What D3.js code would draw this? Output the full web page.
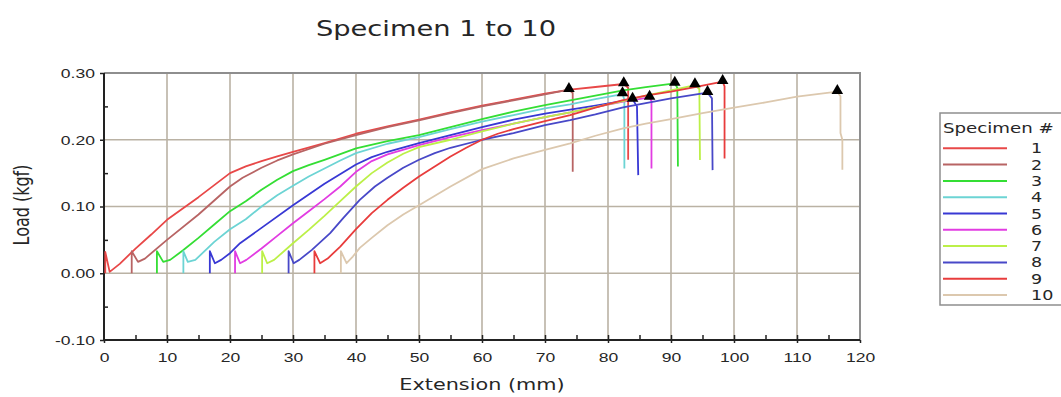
<!DOCTYPE html>
<html>
<head>
<meta charset="utf-8">
<script src="https://cdn.jsdelivr.net/npm/d3@7"></script>
<style>
  body { margin: 0; background: #fff; }
  svg { display: block; font-family: "DejaVu Sans", Verdana, sans-serif; }
</style>
</head>
<body>
<div id="chart"></div>
<script>
// specimen curves, [extension (mm), load (kgf)]
const s1 = [[0.2,0],[0.2,0.032],[0.9,0.002],[2.5,0.014],[5,0.037],[7.5,0.058],[10,0.08],[12.5,0.097],[15,0.114],[17.5,0.132],[20,0.15],[22.5,0.16],[25,0.168],[27.5,0.175],[30,0.182],[35,0.195],[40,0.209],[45,0.22],[50,0.23],[55,0.241],[60,0.251],[65,0.26],[70,0.269],[74,0.275],[78,0.279],[82.5,0.2835],[83.2,0.278],[83.2,0.17]];
const s2 = [[4.4,0],[4.4,0.033],[5.4,0.017],[6.5,0.022],[10,0.05],[15,0.088],[20,0.13],[22,0.143],[25,0.158],[27.5,0.169],[30,0.178],[35,0.194],[40,0.207],[45,0.219],[50,0.229],[55,0.24],[60,0.25],[65,0.259],[70,0.268],[73.8,0.275],[74.4,0.27],[74.4,0.152]];
const s3 = [[8.4,0],[8.4,0.033],[9.4,0.017],[10.5,0.02],[12.5,0.034],[15,0.053],[17.5,0.073],[20,0.093],[22.5,0.108],[25,0.125],[27.5,0.14],[30,0.153],[32.5,0.162],[35,0.17],[40,0.187],[45,0.198],[50,0.207],[55,0.219],[60,0.231],[65,0.242],[70,0.252],[74,0.259],[78,0.266],[82.4,0.274],[86,0.279],[90.6,0.2845],[91,0.278],[91.1,0.16]];
const s4 = [[12.6,0],[12.6,0.033],[13.3,0.017],[14.5,0.02],[17.5,0.047],[20,0.066],[22.5,0.081],[25,0.1],[27.5,0.117],[30,0.131],[32.5,0.145],[35,0.157],[37.5,0.169],[40,0.18],[45,0.194],[50,0.204],[55,0.216],[60,0.227],[65,0.237],[70,0.247],[74,0.253],[78,0.261],[82.3,0.2685],[82.6,0.26],[82.6,0.157]];
const s5 = [[16.8,0],[16.8,0.033],[17.6,0.015],[18.6,0.02],[20,0.03],[21.6,0.045],[25,0.068],[30,0.102],[35,0.134],[40,0.163],[42.5,0.174],[45,0.182],[50,0.195],[55,0.207],[60,0.219],[65,0.23],[70,0.239],[74,0.245],[78,0.251],[83.9,0.2605],[84.6,0.25],[84.8,0.147]];
const s6 = [[20.8,0],[20.8,0.033],[21.6,0.015],[22.6,0.02],[25,0.037],[27.5,0.056],[30,0.075],[32.5,0.093],[35,0.111],[37.5,0.13],[40,0.152],[42.5,0.168],[45,0.178],[50,0.192],[55,0.204],[60,0.2145],[65,0.224],[70,0.234],[74,0.241],[78,0.249],[82.4,0.257],[86.6,0.2635],[86.9,0.258],[86.9,0.157]];
const s7 = [[25.1,0],[25.1,0.033],[25.9,0.015],[27,0.02],[30,0.045],[32.5,0.065],[35,0.086],[37.5,0.108],[40,0.13],[42.5,0.15],[45,0.166],[47.5,0.179],[50,0.189],[55,0.2],[60,0.2125],[65,0.224],[70,0.234],[74,0.241],[78,0.249],[82.4,0.258],[86,0.266],[90,0.274],[93.8,0.282],[94.5,0.276],[94.6,0.1695]];
const s8 = [[29.3,0],[29.3,0.033],[30.1,0.015],[31,0.02],[33,0.035],[35.9,0.06],[38,0.083],[40.6,0.11],[43,0.13],[45,0.143],[47.5,0.158],[50,0.17],[52.5,0.18],[55,0.188],[60,0.2],[65,0.21],[70,0.222],[74,0.2295],[78,0.238],[82.4,0.2485],[86,0.255],[90,0.262],[95.8,0.2705],[96.5,0.262],[96.6,0.1545]];
const s9 = [[33.4,0],[33.4,0.033],[34.3,0.015],[35.5,0.022],[37.5,0.04],[40,0.066],[42.5,0.09],[45,0.11],[47.5,0.128],[50,0.145],[52.5,0.16],[55,0.175],[57.5,0.188],[60,0.2],[62.5,0.209],[65,0.216],[70,0.228],[74,0.237],[78,0.248],[82.4,0.2595],[86,0.266],[90,0.272],[93.8,0.279],[98.2,0.287],[98.5,0.28],[98.5,0.172]];
const s10 = [[37.6,0],[37.6,0.033],[38.5,0.015],[39.5,0.025],[40.6,0.038],[42.5,0.053],[45,0.072],[47.5,0.088],[50,0.102],[55,0.13],[60,0.156],[65,0.172],[70,0.185],[74,0.1945],[78,0.206],[82.4,0.217],[86,0.224],[90,0.231],[95,0.24],[100,0.248],[105,0.256],[110,0.2645],[116.4,0.272],[116.9,0.265],[116.9,0.21],[117.2,0.2],[117.2,0.155]];

const specimens = ["1", "2", "3", "4", "5", "6", "7", "8", "9", "10"];
const curves = [s1, s2, s3, s4, s5, s6, s7, s8, s9, s10];
const xTicks = [0, 10, 20, 30, 40, 50, 60, 70, 80, 90, 100, 110, 120];
const yTicks = [-0.10, 0.00, 0.10, 0.20, 0.30];

const colors = ["#e84848", "#b86464", "#34de34", "#6cd4d4", "#3838d4",
                "#e23ce2", "#bcf048", "#4848c8", "#e83c3c", "#dcc8ae"];

const width = 1061, height = 397;
const stretch = 1.3; // text in the original is wide

const svg = d3.select("#chart").append("svg")
  .attr("width", width).attr("height", height);

const x = d3.scaleLinear().domain([0, 120]).range([104, 860]);
const y = d3.scaleLinear().domain([-0.1, 0.3]).range([340, 73]);

// GRID
const grid = svg.append("g").attr("stroke", "#bab2a4").attr("stroke-width", 1.6);
grid.selectAll(".gx").data(xTicks.slice(1, -1)).join("line")
  .attr("x1", d => x(d)).attr("x2", d => x(d))
  .attr("y1", y(0.3)).attr("y2", y(-0.1));
grid.selectAll(".gy").data(yTicks.slice(1, -1)).join("line")
  .attr("x1", x(0)).attr("x2", x(120))
  .attr("y1", d => y(d)).attr("y2", d => y(d));

// FRAME (top / right grey, left / bottom black)
svg.append("path")
  .attr("d", `M${x(0)},${y(0.3)}H${x(120)}V${y(-0.1)}`)
  .attr("fill", "none").attr("stroke", "#8e8e8e").attr("stroke-width", 2);

// AXES
const yAxis = svg.append("g").attr("transform", `translate(${x(0)},0)`)
  .call(d3.axisLeft(y).tickValues(yTicks).tickSize(4).tickPadding(3)
    .tickFormat(d => d.toFixed(2)));
const yMinor = svg.append("g").attr("transform", `translate(${x(0)},0)`)
  .call(d3.axisLeft(y).tickValues([-0.05, 0.05, 0.15, 0.25]).tickSize(-4).tickFormat(""));
const xAxis = svg.append("g").attr("transform", `translate(0,${y(-0.1)})`)
  .call(d3.axisBottom(x).tickValues(xTicks).tickSize(3).tickPadding(9));
const xMinor = svg.append("g").attr("transform", `translate(0,${y(-0.1)})`)
  .call(d3.axisBottom(x).tickValues(d3.range(5, 120, 5)).tickSize(-5).tickFormat(""));

[yAxis, yMinor, xAxis, xMinor].forEach(a => {
  a.select(".domain").remove();
  a.selectAll("line").attr("stroke", "#222").attr("stroke-width", 1.5);
  a.selectAll("text")
    .attr("transform", `scale(${stretch},1)`)
    .style("font-size", "13.5px")
    .attr("fill", "#262626");
});

svg.append("path")
  .attr("d", `M${x(0)},${y(0.3)}V${y(-0.1)}H${x(120)}`)
  .attr("fill", "none").attr("stroke", "#222").attr("stroke-width", 2);

// CURVES
const line = d3.line().x(d => x(d[0])).y(d => y(d[1]));
svg.append("g").selectAll("path").data(curves).join("path")
  .attr("d", line)
  .attr("fill", "none")
  .attr("stroke", (d, i) => colors[i])
  .attr("stroke-width", 1.8)
  .attr("stroke-linejoin", "round");

// PEAK MARKERS
const tri = d3.symbol().type(d3.symbolTriangle).size(58);
svg.append("g").selectAll("path").data(curves.map(c => d3.greatest(c, p => p[1])))
  .join("path")
  .attr("d", tri)
  .attr("transform", d => `translate(${x(d[0])},${y(d[1]) - 1})`)
  .attr("fill", "#000");

// TITLES
function label(txt, px, py, size, anchor, rotate) {
  svg.append("text")
    .attr("transform", `translate(${px},${py}) scale(${stretch},1)` + (rotate ? " rotate(-90)" : ""))
    .attr("text-anchor", anchor)
    .style("font-size", size + "px")
    .attr("fill", "#262626")
    .text(txt);
}
label("Specimen 1 to 10", 436, 36, 21, "middle");
label("Extension (mm)", 482, 390, 16, "middle");
label("Load (kgf)", 29, 205, 16, "middle", true);

// LEGEND
const legend = svg.append("g");
legend.append("rect")
  .attr("x", 940).attr("y", 113).attr("width", 130).attr("height", 192)
  .attr("fill", "#fff").attr("stroke", "#8e8e8e").attr("stroke-width", 1.5);
legend.append("text")
  .attr("transform", `translate(943,133) scale(${stretch},1)`)
  .style("font-size", "14px").attr("fill", "#262626")
  .text("Specimen #");
const ly = d3.scalePoint().domain(specimens).range([148.3, 295]);
const rows = legend.selectAll(".row").data(specimens).join("g")
  .attr("transform", d => `translate(0,${ly(d)})`);
rows.append("line")
  .attr("x1", 943).attr("x2", 1007)
  .attr("stroke", (d, i) => colors[i]).attr("stroke-width", 2);
rows.append("text")
  .attr("transform", `translate(1031,5) scale(${stretch},1)`)
  .style("font-size", "13.5px").attr("fill", "#262626")
  .text(d => d);
</script>
</body>
</html>
